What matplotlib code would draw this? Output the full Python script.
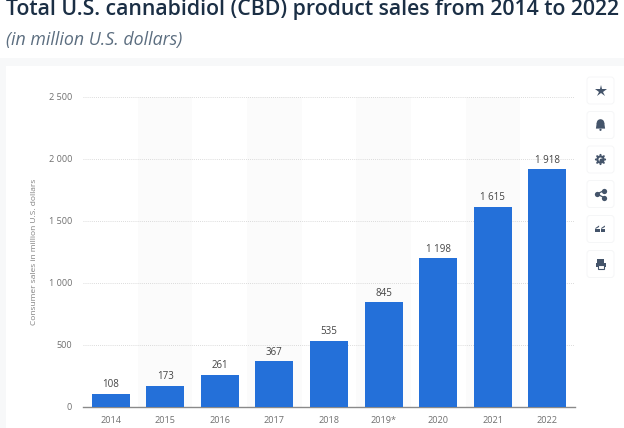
import matplotlib
matplotlib.use('Agg')
import matplotlib.pyplot as plt
from matplotlib.patches import FancyBboxPatch, Rectangle, Circle, Polygon

plt.rcParams['font.family'] = ['Open Sans', 'DejaVu Sans']

years = ['2014', '2015', '2016', '2017', '2018', '2019*', '2020', '2021', '2022']
sales = [108, 173, 261, 367, 535, 845, 1198, 1615, 1918]
sales_labels = ['108', '173', '261', '367', '535', '845', '1 198', '1 615', '1 918']
yticks = [0, 500, 1000, 1500, 2000, 2500]
ytick_labels = ['0', '500', '1 000', '1 500', '2 000', '2 500']

W, H = 624, 428
fig = plt.figure(figsize=(W / 100, H / 100), dpi=100, facecolor='white')

# pixel overlay for page background, card and buttons
bg = fig.add_axes([0, 0, 1, 1], zorder=0)
bg.set_xlim(0, W)
bg.set_ylim(H, 0)
bg.axis('off')
bg.add_patch(Rectangle((0, 58), W, H - 58, color='#f7f8f9', lw=0))
bg.add_patch(Rectangle((6, 66), W - 6, H - 66, color='white', lw=0))

ax = fig.add_axes([83.25 / W, 1 - 407 / H, (574.75 - 83.25) / W, 310 / H], zorder=1)
ax.patch.set_alpha(0)
ax.set_xlim(-0.5, 8.5)
ax.set_ylim(0, 2500)

# alternating bands
for i in range(1, len(years), 2):
    ax.axvspan(i - 0.5, i + 0.5, color='#fbfbfb', lw=0, zorder=0)

ax.bar(range(len(years)), sales, width=0.695, color='#2470d9', zorder=3)
for i, v in enumerate(sales):
    ax.text(i, v + 28, sales_labels[i], ha='center', va='bottom', fontsize=7,
            color='#444444', fontweight='medium', zorder=4)

ax.set_yticks(yticks)
ax.set_yticklabels(ytick_labels)
ax.set_xticks(range(len(years)))
ax.set_xticklabels(years)
ax.tick_params(axis='both', length=0, labelsize=6.6, labelcolor='#707070')
ax.tick_params(axis='x', pad=6.5)
ax.tick_params(axis='y', pad=8)
ax.grid(axis='y', color='#d0d0d0', lw=0.6, ls=(0, (1, 1.5)), zorder=1)
ax.set_axisbelow(True)
for s in ['top', 'right', 'left']:
    ax.spines[s].set_visible(False)
ax.spines['bottom'].set_color('#8a8a8a')
ax.spines['bottom'].set_linewidth(1.0)
ax.set_ylabel('Consumer sales in million U.S. dollars', fontsize=6, color='#808080', labelpad=0)
ax.yaxis.set_label_coords((38 - 83.25) / (574.75 - 83.25), 0.5)

fig.text(6 / W, 1 - 9 / H, 'Total U.S. cannabidiol (CBD) product sales from 2014 to 2022',
         fontsize=15.3, fontweight='semibold', color='#1b2f45', va='center', ha='left')
fig.text(6 / W, 1 - 40 / H, '(in million U.S. dollars)', fontsize=12.8, style='italic',
         color='#5c6e80', va='center', ha='left')

# side buttons
over = fig.add_axes([0, 0, 1, 1], zorder=2)
over.set_xlim(0, W)
over.set_ylim(H, 0)
over.axis('off')
icon = '#44546a'
centers = [90.5, 125, 159.5, 194, 229, 264]
for cy in centers:
    over.add_patch(FancyBboxPatch((590, cy - 10.5), 21, 21, boxstyle='round,pad=3,rounding_size=3',
                                  fc='white', ec='#f5f6f7', lw=0.7))
cx = 600.5
over.plot(cx, centers[0], marker='*', ms=9, color=icon, mew=0)
# bell
cy = centers[1]
over.add_patch(Circle((cx, cy - 2), 3.8, color=icon, lw=0))
over.add_patch(Polygon([(cx - 3.8, cy - 2), (cx + 3.8, cy - 2), (cx + 4.6, cy + 3.6), (cx - 4.6, cy + 3.6)],
                       color=icon, lw=0))
over.add_patch(Circle((cx, cy + 4.8), 1.1, color=icon, lw=0))
# gear
cy = centers[2]
over.plot(cx, cy, marker=(8, 0, 0), ms=3, color=icon, mew=0)
over.add_patch(Circle((cx, cy), 4.2, color=icon, lw=0))
over.add_patch(Circle((cx, cy), 2, color='white', lw=0))
for dx, dy in [(0, -4.6), (0, 4.6), (-4.6, 0), (4.6, 0), (-3.3, -3.3), (3.3, -3.3), (-3.3, 3.3), (3.3, 3.3)]:
    over.add_patch(Circle((cx + dx, cy + dy), 1, color=icon, lw=0))
# share
cy = centers[3]
sx = [cx - 3.5, cx + 3.5, cx + 3.5]
sy = [cy, cy - 3.5, cy + 3.5]
over.plot([sx[1], sx[0], sx[2]], [sy[1], sy[0], sy[2]], color=icon, lw=0.9)
over.plot(sx, sy, 'o', ms=3.8, color=icon, mew=0)
# quotes
cy = centers[4]
for qx in [cx - 2.9, cx + 2.9]:
    over.add_patch(Rectangle((qx - 2.2, cy - 0.5), 4.2, 3.8, color=icon, lw=0))
    over.add_patch(Polygon([(qx - 2.2, cy), (qx - 2.2, cy - 1), (qx + 1.5, cy - 3.5), (qx + 1.5, cy - 2)], color=icon, lw=0))
# printer
cy = centers[5]
over.add_patch(Rectangle((cx - 3.5, cy - 5), 7, 3.5, fc=icon, lw=0))
over.add_patch(Rectangle((cx - 5, cy - 1.5), 10, 4.5, fc=icon, lw=0))
over.add_patch(Rectangle((cx - 3, cy + 1), 6, 3.5, fc='white', ec=icon, lw=0.8))

fig.savefig('out.png', dpi=100)
